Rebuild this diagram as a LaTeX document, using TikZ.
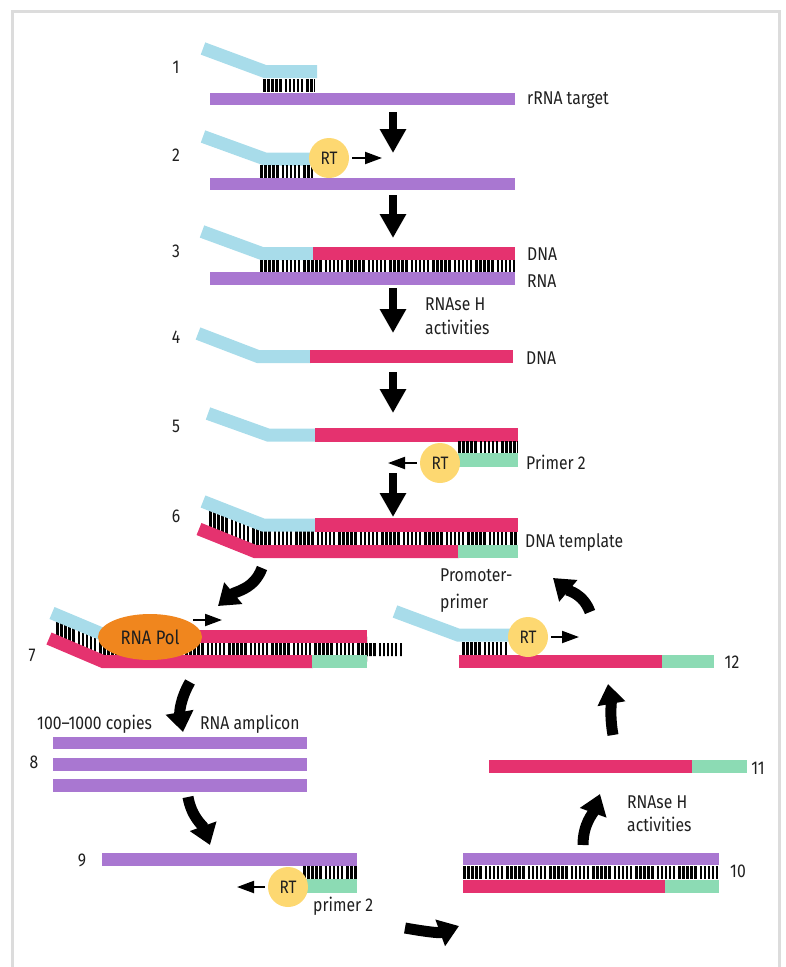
\documentclass[tikz,border=0pt]{standalone}
\usepackage{fontspec}
\setmainfont[FakeStretch=0.85]{Fira Sans}
\usetikzlibrary{arrows.meta,shapes.geometric}
\definecolor{pblue}{HTML}{A8DCEA}
\definecolor{ppurple}{HTML}{A977D1}
\definecolor{ppink}{HTML}{E5326F}
\definecolor{pgreen}{HTML}{8CDBB4}
\definecolor{rtyellow}{HTML}{FDD871}
\definecolor{polorange}{HTML}{F0861E}
\definecolor{framegray}{HTML}{DCDCDC}
\begin{document}
\begin{tikzpicture}[x=1pt,y=1pt,
 lbl/.style={font=\fontsize{18.5}{20}\selectfont, anchor=west, inner sep=0pt, text height=13pt, text depth=0pt, text=black!88},
 num/.style={font=\fontsize{18.5}{20}\selectfont, inner sep=0pt, text height=13pt, text depth=0pt, text=black!88},
 band/.style={line width=13pt, line join=miter},
 hashpat/.style={black, dash pattern=on 2.5pt off 1.5pt on 2.5pt off 1.5pt on 2.5pt off 1.5pt on 2.5pt off 1.5pt on 2.5pt off 3pt},
 hash/.style={line width=13pt, hashpat},
 widehash/.style={line width=60pt, hashpat},
 bigarrow/.style={line width=8pt, -{Triangle[width=25pt,length=24pt]}},
 smallarrow/.style={line width=2pt, -{Triangle[width=12pt,length=17pt]}},
 curvarrow/.style={line width=11pt, -{Triangle[width=27pt,length=20pt]}},
 rt/.style={circle, fill=rtyellow, minimum size=40pt, inner sep=0pt, font=\fontsize{18}{20}\selectfont, text=black!88},
]
\useasboundingbox (0,0) rectangle (786,-967);
% frame
\draw[framegray, line width=3pt] (12,-967) -- (12,-11) -- (779,-11) -- (779,-967);

% ---------- step 1
\node[num] (n1) at (176,-67) {1};
\fill[ppurple] (210,-93) rectangle (515,-105);
\draw[band, pblue] (203,-48.5) -- (265,-71.5) -- (317,-71.5);
\draw[hash] (263,-85) -- (315,-85);
\node[lbl] (t1) at (527,-98) {rRNA target};

% ---------- step 2
\node[num] (n2) at (176,-155) {2};
\fill[ppurple] (210,-178) rectangle (515,-190);
\draw[band, pblue] (203,-136.5) -- (265,-159) -- (315,-159);
\draw[hash] (260,-171.5) -- (313,-171.5);
\node[rt] (rt2) at (329,-158) {RT};
\coordinate (s2) at (382,-158);
\draw[smallarrow, shorten <=3pt] (rt2.east) -- (s2);

% ---------- step 3
\node[num] (n3) at (176,-251) {3};
\draw[band, pblue] (202,-231.5) -- (262,-253.5) -- (314,-253.5);
\fill[ppink] (313,-247) rectangle (515,-260);
\draw[hash] (260,-266.5) -- (515,-266.5);
\fill[ppurple] (210,-272) rectangle (515,-285);
\node[lbl] (t3a) at (527,-254) {DNA};
\node[lbl] (t3b) at (527,-281) {RNA};

% ---------- step 4
\node[num] (n4) at (176,-337) {4};
\draw[band, pblue] (198,-333.5) -- (258,-356.5) -- (311,-356.5);
\fill[ppink] (310,-350) rectangle (513,-363);
\node[lbl] (t4) at (526,-358) {DNA};
\node[lbl] (r4a) at (425,-304) {RNAse H};
\node[lbl] (r4b) at (425,-328) {activities};

% ---------- step 5
\node[num] (n5) at (176,-426) {5};
\draw[band, pblue] (208,-413.5) -- (268,-435) -- (316,-435);
\fill[ppink] (315,-428) rectangle (518,-442);
\draw[hash] (458,-447.5) -- (518,-447.5);
\fill[pgreen] (458,-453) rectangle (518,-467);
\node[rt] (rt5) at (440,-463) {RT};
\coordinate (s5) at (388,-463);
\draw[smallarrow, shorten <=3pt] (rt5.west) -- (s5);
\node[lbl] (t5) at (526,-463) {Primer 2};

% ---------- step 6
\node[num] (n6) at (176,-516) {6};
\begin{scope}
 \clip (209,-504) -- (263,-525) -- (518,-525) -- (518,-551.5) -- (255,-551.5) -- (209,-533) -- cycle;
 \draw[widehash] (209,-528) -- (518,-528);
\end{scope}
\draw[band, pblue] (203,-501.5) -- (263,-525) -- (316,-525);
\fill[ppink] (315,-518) rectangle (518,-532);
\draw[band, ppink] (199,-529) -- (255,-551.5) -- (459,-551.5);
\fill[pgreen] (458,-545) rectangle (518,-558);
\node[lbl] (t6) at (525,-541) {DNA template};

% ---------- step 7
\node[num] (n7) at (32,-655) {7};
\begin{scope}
 \clip (56,-615) -- (108,-636.5) -- (367,-636.5) -- (367,-643) -- (402,-643) -- (402,-656)
       -- (367,-656) -- (367,-661.5) -- (103,-661.5) -- (56,-641) -- cycle;
 \draw[widehash] (56,-640) -- (402,-640);
\end{scope}
\draw[band, pblue] (52,-613) -- (108,-636.5) -- (162,-636.5);
\fill[ppink] (160,-630) rectangle (367,-643);
\draw[band, ppink] (49,-638.5) -- (103,-661.5) -- (313,-661.5);
\fill[pgreen] (312,-655) rectangle (367,-668);
\node[ellipse, fill=polorange, minimum width=104pt, minimum height=46pt, inner sep=0pt,
      font=\fontsize{19.5}{21}\selectfont, text=black!88] (pol) at (150,-637) {RNA Pol};
\coordinate (s7a) at (193,-620);
\coordinate (s7) at (222,-620);
\draw[smallarrow] (s7a) -- (s7);

% ---------- step 8
\node[lbl] (c8a) at (37,-723) {100--1000 copies};
\node[lbl] (c8b) at (200,-723) {RNA amplicon};
\node[num] (n8) at (34,-762) {8};
\fill[ppurple] (53,-737) rectangle (307,-749);
\fill[ppurple] (53,-758) rectangle (307,-771);
\fill[ppurple] (53,-779) rectangle (307,-792);

% ---------- step 9
\node[num] (n9) at (82,-860) {9};
\fill[ppurple] (102,-853) rectangle (357,-866);
\draw[hash] (303,-872.5) -- (357,-872.5);
\fill[pgreen] (305,-879) rectangle (357,-893);
\node[rt] (rt9) at (288,-887) {RT};
\coordinate (s9) at (237,-887);
\draw[smallarrow, shorten <=3pt] (rt9.west) -- (s9);
\node[lbl] (t9) at (313,-905) {primer 2};

% ---------- step 10
\node[num] (n10) at (738,-871) {10};
\fill[ppurple] (463,-853) rectangle (719,-865);
\draw[hash] (463,-872.5) -- (719,-872.5);
\fill[ppink] (463,-880) rectangle (665,-893);
\fill[pgreen] (665,-880) rectangle (719,-893);

% ---------- step 11
\node[num] (n11) at (758,-768) {11};
\fill[ppink] (489,-760) rectangle (692,-773);
\fill[pgreen] (692,-760) rectangle (747,-773);
\node[lbl] (r11a) at (627,-802) {RNAse H};
\node[lbl] (r11b) at (627,-825) {activities};

% ---------- step 12
\node[num] (n12) at (732,-662) {12};
\draw[band, pblue] (395,-611.5) -- (458,-635) -- (511,-635);
\draw[hash] (462,-648.5) -- (507,-648.5);
\fill[ppink] (459,-655) rectangle (662,-668);
\fill[pgreen] (662,-655) rectangle (714,-668);
\node[rt] (rt12) at (528,-637) {RT};
\coordinate (s12) at (579,-637);
\draw[smallarrow, shorten <=3pt] (rt12.east) -- (s12);
\node[lbl] (p12a) at (440,-575) {Promoter-};
\node[lbl] (p12b) at (440,-602) {primer};

% ---------- straight arrows
\coordinate (a1t) at (393,-112); \coordinate (a1h) at (393,-153);
\coordinate (a2t) at (393,-195); \coordinate (a2h) at (393,-238);
\coordinate (a3t) at (393,-288); \coordinate (a3h) at (393,-333);
\coordinate (a4t) at (393,-372); \coordinate (a4h) at (393,-413);
\coordinate (a5t) at (393,-473); \coordinate (a5h) at (393,-517);
\draw[bigarrow] (a1t) -- (a1h);
\draw[bigarrow] (a2t) -- (a2h);
\draw[bigarrow] (a3t) -- (a3h);
\draw[bigarrow] (a4t) -- (a4h);
\draw[bigarrow] (a5t) -- (a5h);

% ---------- curved arrows
\coordinate (cAt) at (262,-568); \coordinate (cAh) at (218,-606);
\coordinate (cBt) at (190,-682); \coordinate (cBh) at (183,-732);
\coordinate (cCt) at (188,-797); \coordinate (cCh) at (210,-845);
\coordinate (cDt) at (405,-928); \coordinate (cDh) at (459,-926);
\coordinate (cEt) at (583,-845); \coordinate (cEh) at (600,-794);
\coordinate (cFt) at (613,-735); \coordinate (cFh) at (608,-684);
\coordinate (cGt) at (590,-612); \coordinate (cGh) at (553,-578);
\draw[curvarrow] (cAt) to[out=-110,in=40] (cAh);
\draw[curvarrow] (cBt) to[out=-120,in=100] (cBh);
\draw[curvarrow] (cCt) to[out=-80,in=110] (cCh);
\draw[curvarrow] (cDt) to[out=-10,in=200] (cDh);
\draw[curvarrow] (cEt) to[out=90,in=-110] (cEh);
\draw[curvarrow] (cFt) to[out=100,in=-80] (cFh);
\draw[curvarrow] (cGt) to[out=110,in=-40] (cGh);
\end{tikzpicture}
\end{document}
